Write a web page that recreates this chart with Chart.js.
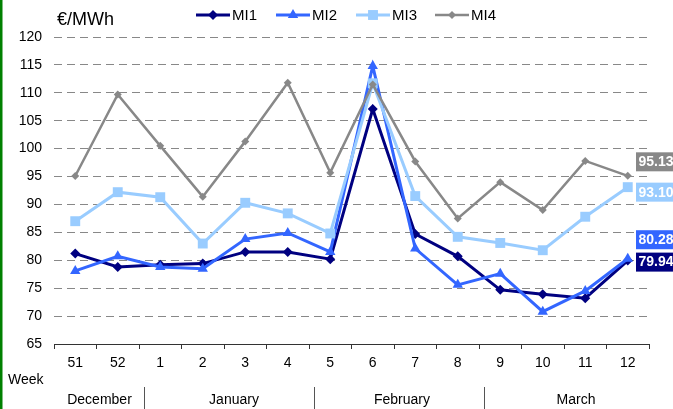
<!DOCTYPE html>
<html>
<head>
<meta charset="utf-8">
<script src="https://cdn.jsdelivr.net/npm/chart.js@4.4.1/dist/chart.umd.min.js"></script>
<style>
html,body{margin:0;padding:0;background:#fff;overflow:hidden;}
canvas{display:block;}
</style>
</head>
<body>
<canvas id="c" width="673" height="409"></canvas>
<script>
const weeks = ['51','52','1','2','3','4','5','6','7','8','9','10','11','12'];
const mi1 = [81.2,78.8,79.2,79.4,81.5,81.5,80.2,107.1,84.7,80.7,74.7,73.9,73.2,79.94];
const mi2 = [78.1,80.7,78.8,78.5,83.8,84.9,81.5,114.8,82.1,75.6,77.6,70.8,74.5,80.28];
const mi3 = [87.0,92.2,91.3,83.0,90.3,88.4,84.8,111.7,91.5,84.2,83.1,81.8,87.8,93.10];
const mi4 = [95.1,109.7,100.5,91.4,101.3,111.8,95.7,111.5,97.7,87.5,94.0,89.0,97.8,95.13];
const seriesNames = ['MI1','MI2','MI3','MI4'];
const months = ['December','January','February','March'];
const monthWeeks = [2,4,4,4];
const yMin = 65, yMax = 120, yStep = 5;
const unitLabel = '€/MWh';
const weekLabel = 'Week';

const colors = ['#000080','#3366FF','#99CCFF','#888888'];
const styles = ['rectRot','triangle','rect','rectRot'];
const radii = [5,6,7,4];
const widths = [3,3,3,2.5];
const labelOffsets = [1.5,-19,5,-14];
const monthShift = [3,10,8,12];
const FONT = '"Liberation Sans", Arial, sans-serif';

const allData = [mi1,mi2,mi3,mi4];
const datasets = allData.map((d,i)=>({
  label: seriesNames[i],
  data: d,
  borderColor: colors[i],
  backgroundColor: colors[i],
  borderWidth: widths[i],
  pointStyle: styles[i],
  pointRadius: radii[i],
  pointHoverRadius: radii[i],
  pointBorderWidth: 0,
  tension: 0,
  order: 4 - i
}));

const extras = {
  id: 'extras',
  afterDatasetsDraw(chart) {
    const ctx = chart.ctx;
    const x = chart.scales.x, y = chart.scales.y;
    ctx.save();
    allData.forEach((d,i)=>{
      const v = d[d.length-1];
      const py = y.getPixelForValue(v) + labelOffsets[i];
      ctx.fillStyle = colors[i];
      ctx.fillRect(636, py-9.5, 40, 19);
      ctx.fillStyle = '#fff';
      ctx.font = 'bold 14px ' + FONT;
      ctx.textAlign = 'left';
      ctx.textBaseline = 'middle';
      ctx.fillText(v.toFixed(2), 638.5, py+0.5);
    });
    ctx.fillStyle = '#000';
    ctx.font = '18px ' + FONT;
    ctx.textAlign = 'left';
    ctx.textBaseline = 'middle';
    ctx.fillText(unitLabel, 57, 20);
    const lx = [196,276,356,435];
    seriesNames.forEach((n,i)=>{
      const sx = lx[i], sy = 15;
      ctx.strokeStyle = colors[i];
      ctx.lineWidth = widths[i];
      ctx.beginPath(); ctx.moveTo(sx, sy); ctx.lineTo(sx+34, sy); ctx.stroke();
      ctx.fillStyle = colors[i];
      Chart.helpers.drawPoint(ctx, {pointStyle: styles[i], radius: radii[i], borderWidth: 0}, sx+17, sy);
      ctx.fillStyle = '#000';
      ctx.font = '15px ' + FONT;
      ctx.textAlign = 'left';
      ctx.textBaseline = 'middle';
      ctx.fillText(n, sx+36, sy+1);
    });
    ctx.font = '14px ' + FONT;
    ctx.fillStyle = '#000';
    ctx.textAlign = 'left';
    ctx.fillText(weekLabel, 8, 380);
    const step = x.getPixelForValue(1) - x.getPixelForValue(0);
    let idx = 0;
    months.forEach((m,i)=>{
      const first = x.getPixelForValue(idx);
      const last = x.getPixelForValue(idx + monthWeeks[i] - 1);
      ctx.textAlign = 'center';
      ctx.fillStyle = '#000';
      ctx.fillText(m, (first+last)/2 + monthShift[i], 400);
      idx += monthWeeks[i];
      if (i < months.length-1) {
        const bx = Math.round(last + step/2 + 5) + 0.5;
        ctx.strokeStyle = '#555';
        ctx.lineWidth = 1;
        ctx.beginPath(); ctx.moveTo(bx, 387); ctx.lineTo(bx, 409); ctx.stroke();
      }
    });
    ctx.fillStyle = '#008000';
    ctx.fillRect(0, 0, 2.5, 409);
    ctx.restore();
  }
};

new Chart(document.getElementById('c'), {
  type: 'line',
  data: { labels: weeks, datasets },
  options: {
    responsive: false,
    animation: false,
    devicePixelRatio: 1,
    layout: { padding: { top: 37, right: 24, left: 0, bottom: 0 } },
    plugins: { legend: { display: false }, tooltip: { enabled: false } },
    scales: {
      x: {
        offset: true,
        grid: { offset: true, drawOnChartArea: false, drawTicks: true, tickLength: 5, color: '#333' },
        border: { display: true, color: '#333', width: 1 },
        ticks: { color: '#000', font: { family: FONT, size: 14 }, padding: 6, maxRotation: 0, autoSkip: false },
        afterFit(s) { s.height = 65; }
      },
      y: {
        min: yMin, max: yMax,
        ticks: { stepSize: yStep, color: '#000', font: { family: FONT, size: 14 }, padding: 12 },
        grid: { color: '#888', lineWidth: 1, drawTicks: false },
        border: { display: false, dash: [8,5] },
        afterFit(s) { s.width = 54; }
      }
    }
  },
  plugins: [extras]
});
</script>
</body>
</html>
